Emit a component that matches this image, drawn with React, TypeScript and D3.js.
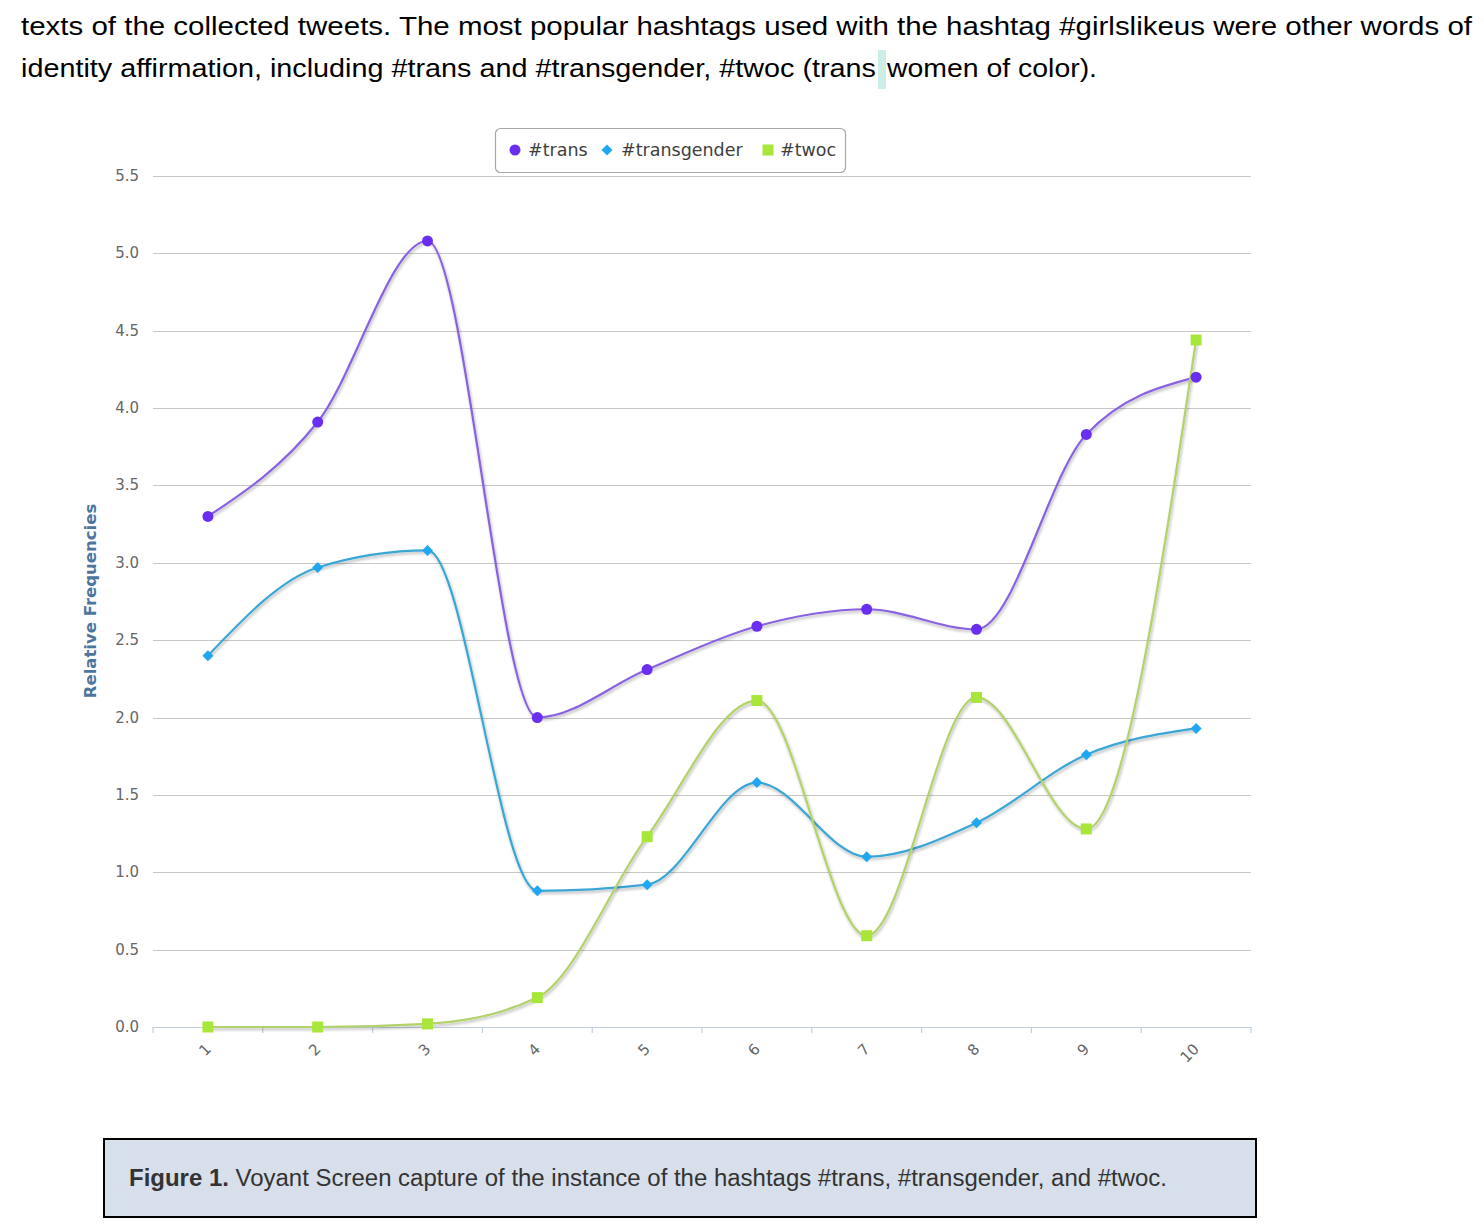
import React from "react";
import * as d3 from "d3";

const categories = ["1", "2", "3", "4", "5", "6", "7", "8", "9", "10"];
const transValues = [3.3, 3.91, 5.08, 2.0, 2.31, 2.59, 2.7, 2.57, 3.83, 4.2];
const transgenderValues = [2.4, 2.97, 3.08, 0.88, 0.92, 1.58, 1.1, 1.32, 1.76, 1.93];
const twocValues = [0.0, 0.0, 0.02, 0.19, 1.23, 2.11, 0.59, 2.13, 1.28, 4.44];
const yTicks = [0, 0.5, 1, 1.5, 2, 2.5, 3, 3.5, 4, 4.5, 5, 5.5];
const seriesNames = ["#trans", "#transgender", "#twoc"];

const introLine1 =
  "texts of the collected tweets. The most popular hashtags used with the hashtag #girlslikeus were other words of";
const introLine2a = "identity affirmation, including #trans and #transgender, #twoc (trans";
const introLine2b = "women of color).";
const captionBold = "Figure 1.";
const captionRest = " Voyant Screen capture of the instance of the hashtags #trans, #transgender, and #twoc.";

const W = 1484;
const H = 1232;
const plot = { left: 153, right: 1251, top: 176, bottom: 1027 };

export default function App() {
  const x = d3
    .scaleBand<string>()
    .domain(categories)
    .range([plot.left, plot.right])
    .padding(0);
  const y = d3.scaleLinear().domain([0, 5.5]).range([plot.bottom, plot.top]);
  const cx = (i: number) => (x(categories[i]) as number) + x.bandwidth() / 2;

  const line = d3
    .line<number>()
    .x((_, i) => cx(i))
    .y((d) => y(d))
    .curve(d3.curveMonotoneX);

  const series = [
    { name: seriesNames[0], values: transValues, line: "#8a62e0", marker: "#6a2ef0", shape: "circle" },
    { name: seriesNames[1], values: transgenderValues, line: "#3aa6d6", marker: "#1fa8f0", shape: "diamond" },
    { name: seriesNames[2], values: twocValues, line: "#b2d26a", marker: "#a8e63a", shape: "square" },
  ];

  const marker = (shape: string, px: number, py: number, color: string, key: any) => {
    if (shape === "circle") return <circle key={key} cx={px} cy={py} r={5.5} fill={color} />;
    if (shape === "diamond")
      return (
        <path
          key={key}
          d={`M${px},${py - 5.5}L${px + 5.5},${py}L${px},${py + 5.5}L${px - 5.5},${py}Z`}
          fill={color}
        />
      );
    return <rect key={key} x={px - 5.5} y={py - 5.5} width={11} height={11} fill={color} />;
  };

  const boundaries = d3.range(categories.length + 1).map((i) => plot.left + i * x.bandwidth());

  const legendItems = [
    { sx: 515, tx: 528 },
    { sx: 607, tx: 621 },
    { sx: 768, tx: 780 },
  ];

  return (
    <div style={{ position: "absolute", left: 0, top: 0 }}>
      <svg width={W} height={H} style={{ display: "block", background: "#fff" }}>
        <defs>
          <filter id="shadow" x="-10%" y="-10%" width="120%" height="120%">
            <feGaussianBlur in="SourceAlpha" stdDeviation="1.5" />
            <feOffset dx="1" dy="1.5" result="b" />
            <feComponentTransfer>
              <feFuncA type="linear" slope="0.3" />
            </feComponentTransfer>
            <feMerge>
              <feMergeNode />
              <feMergeNode in="SourceGraphic" />
            </feMerge>
          </filter>
        </defs>

        {/* intro text */}
        <g fontFamily="'Liberation Sans', Arial, sans-serif" fontSize={26} fill="#000">
          <text x={21} y={35} textLength={1451} lengthAdjust="spacingAndGlyphs">
            {introLine1}
          </text>
          <rect x={878} y={50} width={8} height={39} fill="#cdeee6" />
          <text x={21} y={77} textLength={855} lengthAdjust="spacingAndGlyphs">
            {introLine2a}
          </text>
          <text x={887} y={77} textLength={210} lengthAdjust="spacingAndGlyphs">
            {introLine2b}
          </text>
        </g>

        {/* gridlines */}
        {yTicks.map((t) => (
          <line
            key={t}
            x1={plot.left}
            x2={plot.right}
            y1={Math.round(y(t)) + 0.5}
            y2={Math.round(y(t)) + 0.5}
            stroke={t === 0 ? "#c0d0e0" : "#c8c8c8"}
            strokeWidth={1.2}
          />
        ))}
        {/* x ticks */}
        {boundaries.map((bx, i) => (
          <line key={i} x1={bx} x2={bx} y1={plot.bottom} y2={plot.bottom + 6} stroke="#c0d0e0" strokeWidth={1.2} />
        ))}

        {/* y tick labels */}
        <g fontFamily="'DejaVu Sans', sans-serif" fontSize={15} fill="#666" textAnchor="end">
          {yTicks.map((t) => (
            <text key={t} x={139} y={y(t) + 5}>
              {t.toFixed(1)}
            </text>
          ))}
        </g>

        {/* x tick labels */}
        <g fontFamily="'DejaVu Sans', sans-serif" fontSize={15} fill="#666">
          {categories.map((c, i) => (
            <text
              key={c}
              transform={`translate(${cx(i) + 4},${plot.bottom + 23}) rotate(-45)`}
              textAnchor="end"
            >
              {c}
            </text>
          ))}
        </g>

        {/* y axis title */}
        <text
          transform={`translate(96,601) rotate(-90)`}
          textAnchor="middle"
          fontFamily="'DejaVu Sans', sans-serif"
          fontWeight="bold"
          fontSize={16.5}
          fill="#4d759e"
        >
          Relative Frequencies
        </text>

        {/* series lines */}
        {series.map((s, si) => (
          <path
            key={si}
            d={line(s.values) as string}
            fill="none"
            stroke={s.line}
            strokeWidth={2.2}
            filter="url(#shadow)"
          />
        ))}
        {/* markers */}
        {series.map((s, si) => (
          <g key={si}>{s.values.map((v, i) => marker(s.shape, cx(i), y(v), s.marker, i))}</g>
        ))}

        {/* legend */}
        <rect x={495.5} y={128.5} width={350} height={44} rx={5} fill="#fff" stroke="#a8a8a8" strokeWidth={1.2} />
        <g fontFamily="'DejaVu Sans', sans-serif" fontSize={17.5} fill="#3e3e3e">
          {series.map((s, i) => (
            <g key={i}>
              {marker(s.shape, legendItems[i].sx, 150, s.marker, "m")}
              <text x={legendItems[i].tx} y={156}>
                {s.name}
              </text>
            </g>
          ))}
        </g>

        {/* caption */}
        <rect x={104} y={1139} width={1152} height={78} fill="#d7dfea" stroke="#000" strokeWidth={2} />
        <text
          x={129}
          y={1186}
          fontFamily="'Liberation Sans', Arial, sans-serif"
          fontSize={23.5}
          fill="#333"
          textLength={1038}
          lengthAdjust="spacingAndGlyphs"
        >
          <tspan fontWeight="bold">{captionBold}</tspan>
          <tspan>{captionRest}</tspan>
        </text>
      </svg>
    </div>
  );
}
